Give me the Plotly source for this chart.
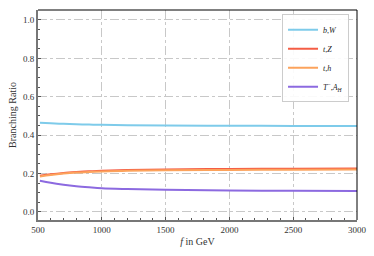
import plotly.graph_objects as go

f_vals = [515, 600, 700, 800, 900, 1000, 1200, 1500, 2000, 2500, 3000]
br_bW = [0.465, 0.462, 0.459, 0.457, 0.455, 0.454, 0.452, 0.450, 0.449, 0.448, 0.448]
br_tZ = [0.188, 0.196, 0.203, 0.208, 0.212, 0.214, 0.218, 0.221, 0.224, 0.225, 0.226]
br_th = [0.185, 0.193, 0.200, 0.205, 0.208, 0.211, 0.215, 0.217, 0.219, 0.220, 0.221]
br_TA = [0.163, 0.152, 0.142, 0.134, 0.128, 0.123, 0.119, 0.115, 0.112, 0.110, 0.109]

names = ["<i>b</i>,<i>W</i>", "<i>t</i>,<i>Z</i>", "<i>t</i>,<i>h</i>", "<i>T</i><sup>−</sup>,<i>A<sub>H</sub></i>"]
colors = ["#7ecbea", "#f45d45", "#fca35c", "#8c6ae0"]
series = [br_bW, br_tZ, br_th, br_TA]

fig = go.Figure()
for n, c, s in zip(names, colors, series):
    fig.add_trace(go.Scatter(x=f_vals, y=s, mode="lines", name=n,
                             line=dict(color=c, width=2, shape="spline")))

font = "Liberation Serif, DejaVu Serif, serif"
fig.update_layout(
    width=374, height=256,
    margin=dict(l=38, r=17, t=10, b=36),
    paper_bgcolor="white", plot_bgcolor="white",
    font=dict(family=font, size=9, color="#333"),
    showlegend=True,
    legend=dict(x=0.975, y=0.98, xanchor="right", yanchor="top",
                bgcolor="rgba(255,255,255,0.9)", bordercolor="#ccc", borderwidth=1,
                font=dict(family=font, size=8, color="#222"),
                itemwidth=30, tracegroupgap=0),
    xaxis=dict(range=[500, 3000], tickvals=[500, 1000, 1500, 2000, 2500, 3000],
               automargin=False,
               showgrid=True, gridcolor="#c8c8c8", griddash="dashdot", gridwidth=1,
               ticks="inside", ticklen=3, tickcolor="#555",
               minor=dict(dtick=100, ticks="inside", ticklen=2, tickcolor="#555", showgrid=False),
               showline=True, linecolor="#777", linewidth=2, mirror=False,
               zeroline=False,
               title=dict(text="<i>f</i> in GeV", font=dict(family=font, size=10, color="#333"), standoff=4)),
    yaxis=dict(range=[-0.042, 1.052], tickvals=[0, 0.2, 0.4, 0.6, 0.8, 1.0],
               tickformat=".1f", automargin=False,
               showgrid=True, gridcolor="#c8c8c8", griddash="dashdot", gridwidth=1,
               ticks="inside", ticklen=3, tickcolor="#555",
               minor=dict(dtick=0.05, ticks="inside", ticklen=2, tickcolor="#555", showgrid=False),
               showline=True, linecolor="#777", linewidth=2, mirror=False,
               zeroline=False,
               title=dict(text="Branching Ratio", font=dict(family=font, size=10, color="#333"), standoff=4)),
)
fig.add_shape(type="line", xref="paper", yref="paper", x0=0, x1=1, y0=1, y1=1,
              line=dict(color="black", width=1))
fig.add_shape(type="line", xref="paper", yref="paper", x0=1, x1=1, y0=0, y1=1,
              line=dict(color="black", width=1))
fig.write_html("out.html", config={"displayModeBar": False},
               post_script="document.body.style.margin='0';document.body.style.overflow='hidden';")
